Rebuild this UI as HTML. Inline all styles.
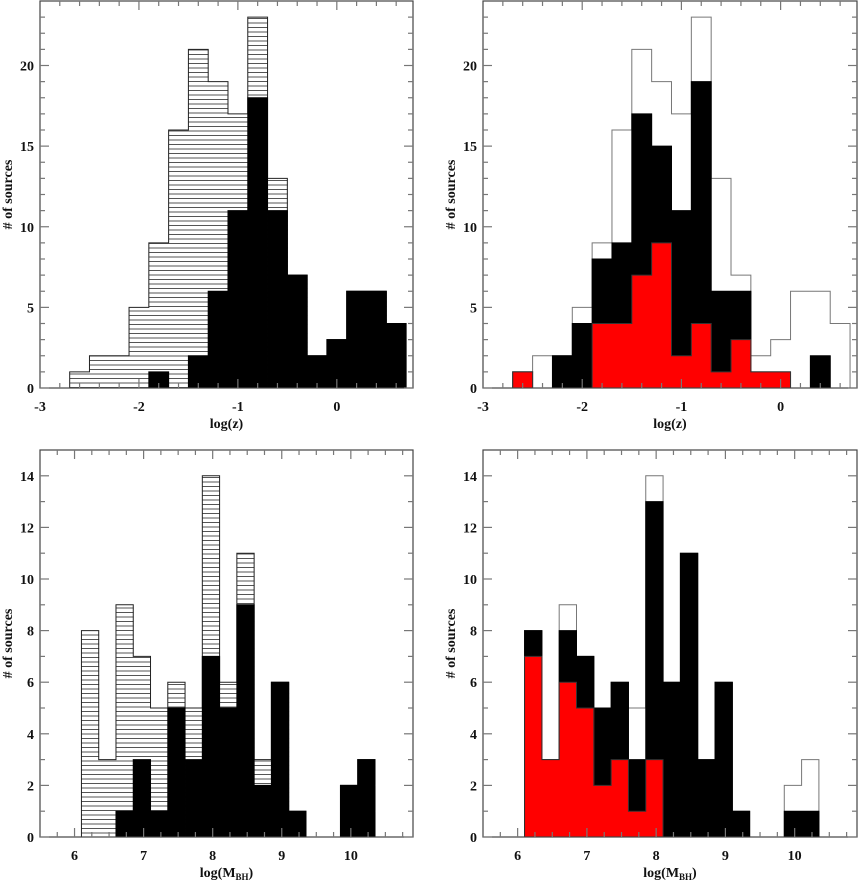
<!DOCTYPE html>
<html><head><meta charset="utf-8"><style>
html,body{margin:0;padding:0;background:#fff;}
svg{display:block;font-family:"Liberation Serif",serif;}
</style></head><body>
<svg id="fig" width="858" height="881" viewBox="0 0 858 881" xmlns="http://www.w3.org/2000/svg">
<defs>
<pattern id="hatch" patternUnits="userSpaceOnUse" width="8" height="4.5"><rect width="8" height="4.5" fill="#fff"/><line x1="0" y1="0.5" x2="8" y2="0.5" stroke="#555" stroke-width="1"/></pattern>
</defs>
</svg>
<script>
// ---- data ----
const zBinStarts = [-2.7,-2.5,-2.3,-2.1,-1.9,-1.7,-1.5,-1.3,-1.1,-0.9,-0.7,-0.5,-0.3,-0.1,0.1,0.3,0.5];
const zTotal = [1,2,2,5,9,16,21,19,17,23,13,7,2,3,6,6,4];
const zBlackLeft = [0,0,0,0,1,0,2,6,11,18,11,7,2,3,6,6,4];
const zBlackRight = [1,0,2,4,8,9,17,15,11,19,6,6,1,1,0,2,0];
const zRed = [1,0,0,0,4,4,7,9,2,4,1,3,1,1,0,0,0];
const mBinStarts = [6.1,6.35,6.6,6.85,7.1,7.35,7.6,7.85,8.1,8.35,8.6,8.85,9.1,9.35,9.6,9.85,10.1];
const mTotal = [8,3,9,7,5,6,5,14,6,11,3,6,1,0,0,2,3];
const mBlackLeft = [0,0,1,3,1,5,3,7,5,9,2,6,1,0,0,2,3];
const mBlackRight = [8,3,8,7,5,6,3,13,6,11,3,6,1,0,0,1,1];
const mRed = [7,3,6,5,2,3,1,3,0,0,0,0,0,0,0,0,0];
const zXTicks = [-3,-2,-1,0];
const zYTicks = [0,5,10,15,20];
const mXTicks = [6,7,8,9,10];
const mYTicks = [0,2,4,6,8,10,12,14];

const NS = "http://www.w3.org/2000/svg";
const svg = document.getElementById('fig');
function mk(tag, attrs, parent){const e=document.createElementNS(NS,tag);for(const k in attrs)e.setAttribute(k,attrs[k]);(parent||svg).appendChild(e);return e;}

function panel(name, box, xr, yr, binStarts, bw, total, black, red, xticks, yticks, xminor, yminor, xlabel, hatched){
  const g = mk('g',{});
  
  
  const sx = v => box.x0 + (v-xr[0])/(xr[1]-xr[0])*(box.x1-box.x0);
  const sy = v => box.y1 - (v-yr[0])/(yr[1]-yr[0])*(box.y1-box.y0);
  const bars = mk('g',{},g);
  
  
  function series(vals, fill, stroke, label){
    for(let i=0;i<binStarts.length;i++){
      if(vals[i]<=0) continue;
      const xa=sx(binStarts[i]), xb=sx(binStarts[i]+bw);
      const r=mk('rect',{x:xa,y:sy(vals[i]),width:xb-xa+0.4,height:sy(0)-sy(vals[i]),fill:fill},bars);
      
      
    }
    let d='M'+sx(binStarts[0])+' '+sy(0);
    for(let i=0;i<binStarts.length;i++){
      d+=' L'+sx(binStarts[i])+' '+sy(vals[i])+' L'+sx(binStarts[i]+bw)+' '+sy(vals[i]);
    }
    d+=' L'+sx(binStarts[binStarts.length-1]+bw)+' '+sy(0);
    const p=mk('path',{d:d,fill:'none',stroke:stroke,'stroke-width':1},bars);
    
    
  }
  series(total, hatched?'url(#hatch)':'#fff', hatched?'#222':'#777', 'total-bar');
  series(black, '#000', '#000', 'black-bar');
  if(red) series(red, '#ff0000', '#333', 'red-bar');
  const fr=mk('rect',{x:box.x0,y:box.y0,width:box.x1-box.x0,height:box.y1-box.y0,fill:'none',stroke:'#444','stroke-width':1.2},g);
  
  
  const tg=mk('g',{stroke:'#777','stroke-width':1.2},g);
  
  
  for(let v=xr[0]; v<=xr[1]+1e-9; v+=xminor){
    const major = xticks.some(t=>Math.abs(t-v)<1e-6);
    const L = major?9:5, x=sx(v);
    if(x<box.x0+1||x>box.x1-1) continue;
    mk('line',{x1:x,y1:box.y1,x2:x,y2:box.y1-L},tg);
    mk('line',{x1:x,y1:box.y0,x2:x,y2:box.y0+L},tg);
  }
  for(let v=yr[0]; v<=yr[1]+1e-9; v+=yminor){
    const major = yticks.some(t=>Math.abs(t-v)<1e-6);
    const L = major?9:5, y=sy(v);
    if(y<box.y0+1) continue;
    mk('line',{x1:box.x0,y1:y,x2:box.x0+L,y2:y},tg);
    mk('line',{x1:box.x1,y1:y,x2:box.x1-L,y2:y},tg);
  }
  xticks.forEach(t=>{const e=mk('text',{x:sx(t),y:box.y1+23,'text-anchor':'middle','font-size':14,'font-weight':'bold',fill:'#111'},g);e.textContent=String(t);
    
    });
  yticks.forEach(t=>{const e=mk('text',{x:box.x0-6,y:sy(t)+5,'text-anchor':'end','font-size':14,'font-weight':'bold',fill:'#111'},g);e.textContent=String(t);
    
    });
  const xl=mk('text',{x:(box.x0+box.x1)/2,y:box.y1+40,'text-anchor':'middle','font-size':14,'font-weight':'bold',fill:'#111'},g);
  
  
  if(xlabel==='z'){xl.textContent='log(z)';}
  else{xl.appendChild(document.createTextNode('log(M'));const s=mk('tspan',{'font-size':9,dy:3},xl);s.textContent='BH';const s2=mk('tspan',{dy:-3},xl);s2.textContent=')';}
  const cy=(box.y0+box.y1)/2;
  const yl=mk('text',{x:box.x0-28,y:cy,'text-anchor':'middle','font-size':14,'font-weight':'bold',fill:'#111',transform:`rotate(-90 ${box.x0-28} ${cy})`},g);
  yl.textContent='# of sources';
  
  
}
panel('redshift-hist-left',{x0:40,x1:413,y0:1,y1:388},[-3,0.77],[0,24],zBinStarts,0.2,zTotal,zBlackLeft,null,zXTicks,zYTicks,0.2,1,'z',true);
panel('redshift-hist-right',{x0:483,x1:857,y0:1,y1:388},[-3,0.77],[0,24],zBinStarts,0.2,zTotal,zBlackRight,zRed,zXTicks,zYTicks,0.2,1,'z',false);
panel('mass-hist-left',{x0:40,x1:413,y0:450,y1:837},[5.5,10.9],[0,15],mBinStarts,0.25,mTotal,mBlackLeft,null,mXTicks,mYTicks,0.25,1,'m',true);
panel('mass-hist-right',{x0:483,x1:857,y0:450,y1:837},[5.5,10.9],[0,15],mBinStarts,0.25,mTotal,mBlackRight,mRed,mXTicks,mYTicks,0.25,1,'m',false);
</script>
</body></html>
